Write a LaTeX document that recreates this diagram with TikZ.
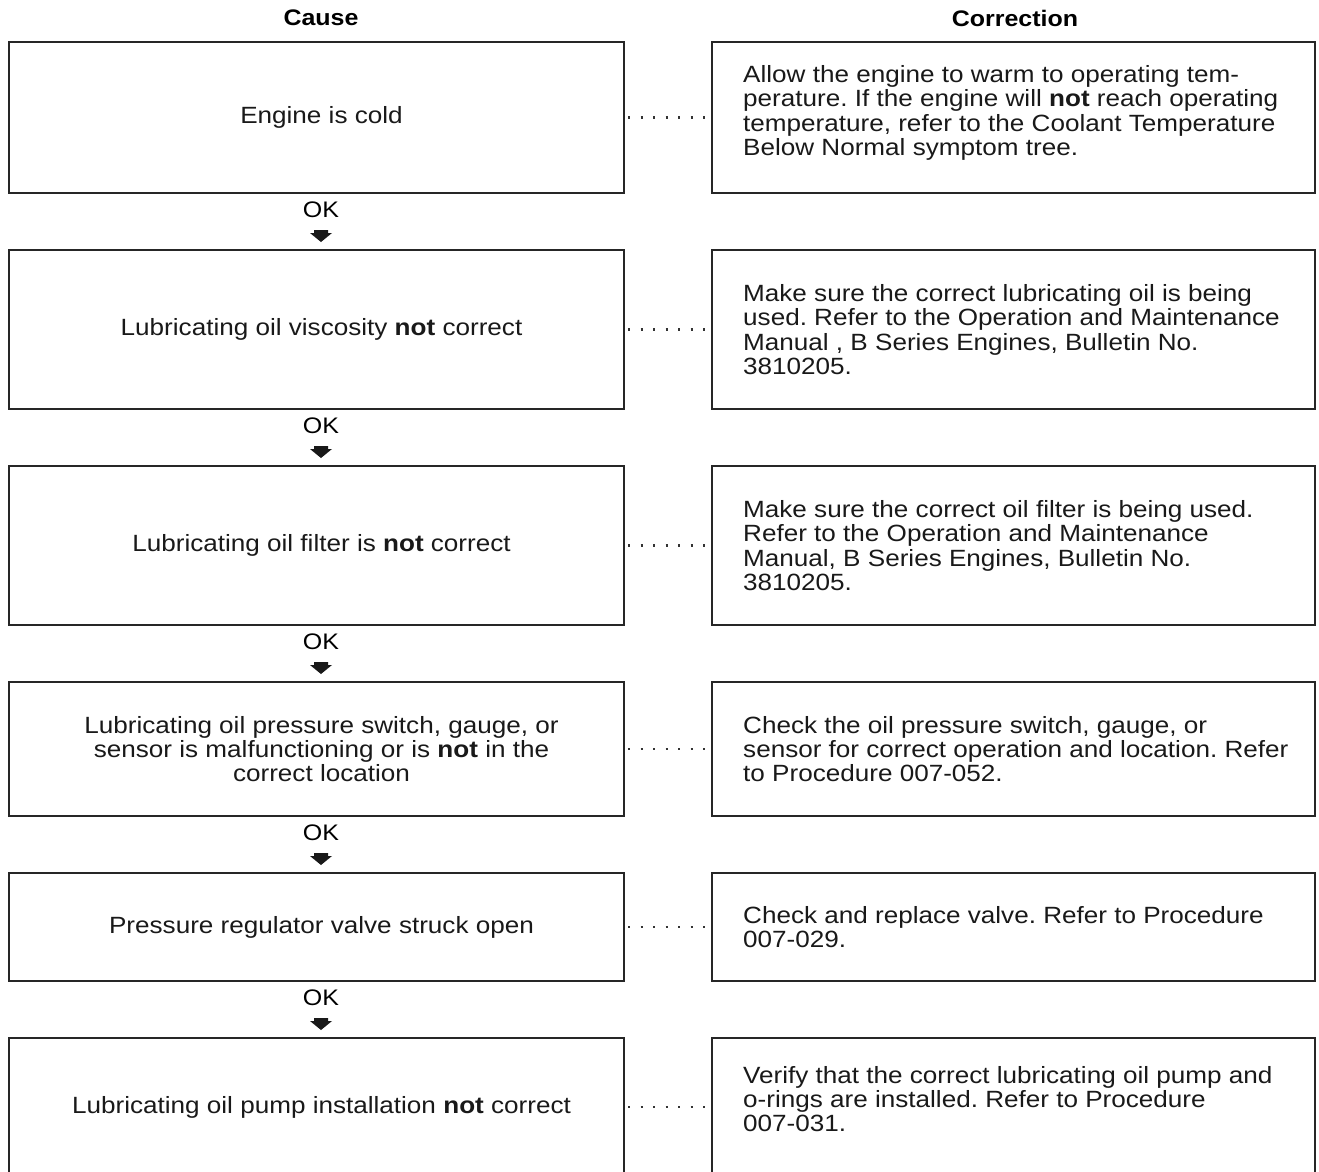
\documentclass[tikz,border=0pt]{standalone}
\usepackage{fontspec}
\setmainfont{Liberation Sans}[FakeStretch=1.11]
\begin{document}
\frenchspacing
\begin{tikzpicture}[x=1pt,y=-1pt,
  box/.style={draw=black!85,line width=1.1pt},
  txt/.style={font=\fontsize{23.5}{24.2}\selectfont,text=black!90,inner sep=0pt},
  ctxt/.style={txt,align=center},
  rtxt/.style={txt,align=left,anchor=west},
  head/.style={font=\fontsize{22.5}{24}\selectfont\bfseries,inner sep=0pt},
  ok/.style={font=\fontsize{22.5}{24}\selectfont,inner sep=0pt},
  dots/.style={line width=2.3pt,dash pattern=on 2.3pt off 10.2pt,black!80},
  blockarrow/.style={fill=black!90,draw=none}]
\useasboundingbox (0,0) rectangle (1319,1171);
\clip (0,0) rectangle (1319,1171);
\node[head] (hc) at (321,18) {Cause};
\node[head] (hr) at (1015,18) {Correction};
% rows: top, bottom
\foreach \i/\t/\b in {1/42/193,2/250/409,3/466/625,4/682/816,5/873/981,6/1038/1200}{
  \draw[box] (9,\t) rectangle (624,\b);
  \draw[box] (712,\t) rectangle (1315,\b);
  \coordinate (L\i) at (321.5,{(\t+\b)/2});
  \coordinate (B\i) at (321,\b);
}
% row 6 centre (visible part)
\coordinate (L6) at (321.5,1107);
% left texts
\node[ctxt] (c1) at (L1) {Engine is cold};
\node[ctxt] (c2) at (L2) {Lubricating oil viscosity \textbf{not} correct};
\node[ctxt] (c3) at (L3) {Lubricating oil filter is \textbf{not} correct};
\node[ctxt] (c4) at (L4) {Lubricating oil pressure switch, gauge, or\\sensor is malfunctioning or is \textbf{not} in the\\correct location};
\node[ctxt] (c5) at (L5) {Pressure regulator valve struck open};
\node[ctxt] (c6) at (L6) {Lubricating oil pump installation \textbf{not} correct};
% right texts
\node[rtxt] (r1) at (743,113) {Allow the engine to warm to operating tem-\\perature. If the engine will \textbf{not} reach operating\\temperature, refer to the Coolant Temperature\\Below Normal symptom tree.};
\node[rtxt] (r2) at (743,329.5) {Make sure the correct lubricating oil is being\\used. Refer to the Operation and Maintenance\\Manual , B Series Engines, Bulletin No.\\3810205.};
\node[rtxt] (r3) at (743,545.5) {Make sure the correct oil filter is being used.\\Refer to the Operation and Maintenance\\Manual, B Series Engines, Bulletin No.\\3810205.};
\node[rtxt] (r4) at (743,749) {Check the oil pressure switch, gauge, or\\sensor for correct operation and location. Refer\\to Procedure 007-052.};
\node[rtxt] (r5) at (743,927) {Check and replace valve. Refer to Procedure\\007-029.};
\node[rtxt] (r6) at (743,1099) {Verify that the correct lubricating oil pump and\\o-rings are installed. Refer to Procedure\\007-031.};
% dotted connectors
\foreach \y in {117.5,329.5,545.5,749,927,1107}{
  \coordinate (da) at (628,\y);
  \coordinate (db) at (707,\y);
  \draw[dots] (da) -- (db);
}
% OK labels and arrows
\foreach \i in {1,...,5}{
  \node[ok] (ok\i) at ([yshift=-17]B\i) {OK};
  \fill[blockarrow] ([xshift=-7,yshift=-37]B\i) -- ([xshift=7,yshift=-37]B\i) -- ([xshift=7,yshift=-40]B\i)
     -- ([xshift=11,yshift=-40]B\i) -- ([yshift=-49]B\i) -- ([xshift=-11,yshift=-40]B\i) -- ([xshift=-7,yshift=-40]B\i) -- cycle;
}
\end{tikzpicture}
\end{document}
